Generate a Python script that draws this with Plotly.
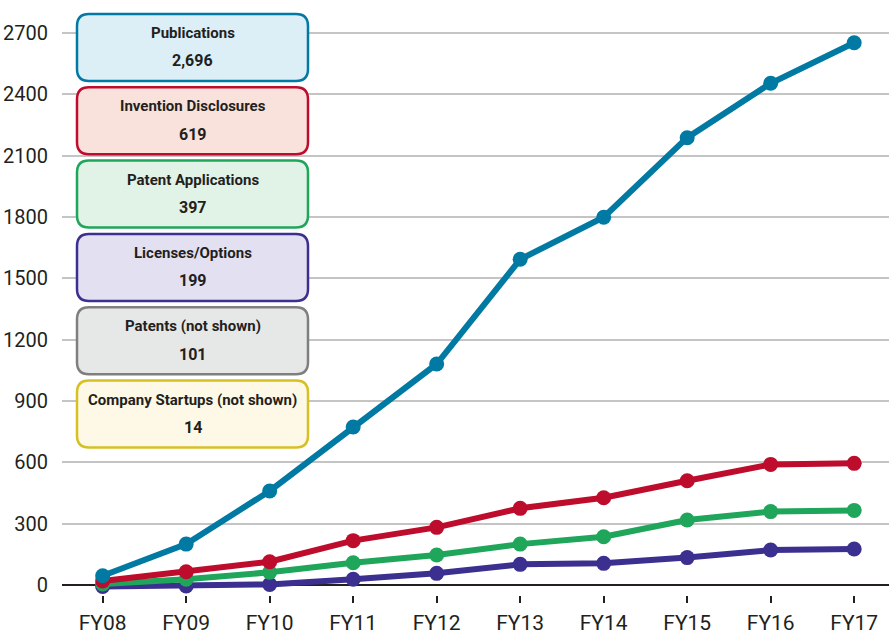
import plotly.graph_objects as go

categories = ["FY08", "FY09", "FY10", "FY11", "FY12", "FY13", "FY14", "FY15", "FY16", "FY17"]
publications = [45, 200, 460, 773, 1081, 1593, 1799, 2188, 2454, 2652]
invention_disclosures = [20, 65, 114, 217, 282, 375, 427, 510, 590, 595]
patent_applications = [5, 28, 62, 109, 147, 200, 236, 318, 359, 365]
licenses_options = [-7, -5, 3, 28, 57, 101, 106, 134, 171, 176]
y_ticks = [0, 300, 600, 900, 1200, 1500, 1800, 2100, 2400, 2700]

legend_titles = ["Publications", "Invention Disclosures", "Patent Applications",
                 "Licenses/Options", "Patents (not shown)", "Company Startups (not shown)"]
legend_values = ["2,696", "619", "397", "199", "101", "14"]

line_colors = ["#0079A3", "#BE0C2C", "#1FA65B", "#3B2F8F"]
box_borders = ["#0079A3", "#BE0C2C", "#1FA65B", "#3B2F8F", "#7F7F7F", "#D6C024"]
box_fills = ["#DCEEF6", "#F9E2DB", "#E1F2E6", "#E3E1F1", "#E6E7E7", "#FDF9E6"]

W, H = 889, 634
ML, MR, MT, MB = 62, 0, 0, 39
PW, PH = W - ML - MR, H - MT - MB

FONT = "Roboto, sans-serif"

x = list(range(len(categories)))
fig = go.Figure()
series = [licenses_options, patent_applications, invention_disclosures, publications]
colors = [line_colors[3], line_colors[2], line_colors[1], line_colors[0]]
for vals, c in zip(series, colors):
    fig.add_trace(go.Scatter(x=x, y=vals, mode="lines+markers",
                             line=dict(color=c, width=6),
                             marker=dict(color=c, size=15),
                             cliponaxis=False, showlegend=False, hoverinfo="skip"))

def px_to_paper(px, py):
    return (px - ML) / PW, (H - MB - py) / PH

shapes = []
annotations = []
bx0, bx1 = 77, 308
r = 12
for i, (t, v) in enumerate(zip(legend_titles, legend_values)):
    top = 14 + i * 73.3
    bot = top + 67
    def P(px, py):
        a, b = px_to_paper(px, py)
        return f"{a:.5f},{b:.5f}"
    path = (f"M {P(bx0 + r, top)} L {P(bx1 - r, top)} Q {P(bx1, top)} {P(bx1, top + r)} "
            f"L {P(bx1, bot - r)} Q {P(bx1, bot)} {P(bx1 - r, bot)} "
            f"L {P(bx0 + r, bot)} Q {P(bx0, bot)} {P(bx0, bot - r)} "
            f"L {P(bx0, top + r)} Q {P(bx0, top)} {P(bx0 + r, top)} Z")
    shapes.append(dict(type="path", xref="paper", yref="paper", path=path,
                       line=dict(color=box_borders[i], width=2.5),
                       fillcolor=box_fills[i], layer="above"))
    cx, _ = px_to_paper((bx0 + bx1) / 2, 0)
    _, ty = px_to_paper(0, top + 19)
    _, vy = px_to_paper(0, top + 47)
    annotations.append(dict(x=cx, y=ty, xref="paper", yref="paper", text=f"<b>{t}</b>",
                            showarrow=False, font=dict(family=FONT, size=15, color="#231F20"),
                            xanchor="center", yanchor="middle"))
    annotations.append(dict(x=cx, y=vy, xref="paper", yref="paper", text=f"<b>{v}</b>",
                            showarrow=False, font=dict(family=FONT, size=16, color="#231F20"),
                            xanchor="center", yanchor="middle"))

px_per_unit = (585 - 33) / 2700.0
y_lo = -(595 - 585) / px_per_unit
y_hi = y_lo + PH / px_per_unit

fig.update_layout(
    width=W, height=H,
    margin=dict(l=ML, r=MR, t=MT, b=MB, pad=0, autoexpand=False),
    paper_bgcolor="white", plot_bgcolor="white",
    shapes=shapes, annotations=annotations,
    xaxis=dict(range=[-0.487, 9.417], tickvals=x, ticktext=categories,
               showgrid=False, zeroline=False, showline=False, automargin=False,
               ticks="outside", ticklen=7, tickwidth=2, tickcolor="#231F20",
               ticklabelstandoff=2,
               tickfont=dict(family=FONT, size=21, color="#231F20")),
    yaxis=dict(range=[y_lo, y_hi], tickvals=y_ticks, ticktext=[str(v) for v in y_ticks],
               showgrid=True, gridcolor="#C4C4C4", gridwidth=1.5,
               zeroline=True, zerolinecolor="#231F20", zerolinewidth=2,
               showline=False, ticks="", ticklabelstandoff=13, automargin=False,
               tickfont=dict(family=FONT, size=20, color="#231F20")),
)

fig.write_html("out.html", config={"displayModeBar": False},
               post_script="document.body.style.margin='0';document.body.style.padding='0';")
